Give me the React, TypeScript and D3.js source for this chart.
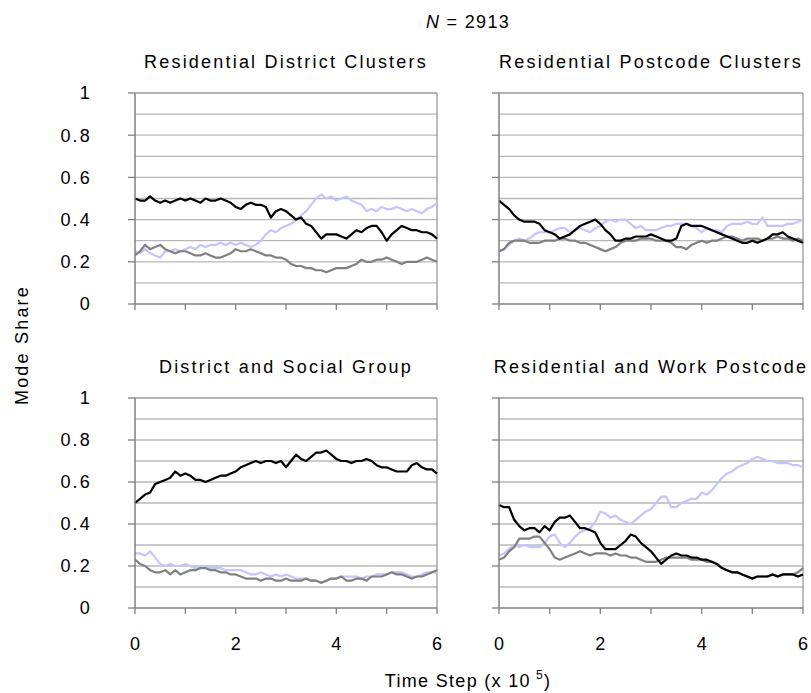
import React from "react";
import * as d3 from "d3";

// Mode share sampled every 0.1 x 10^5 time steps, t = 0 .. 6
const SAMPLE_STEP = 0.1;

const residentialDistrictBlack = [
  0.50, 0.49, 0.49, 0.51, 0.49, 0.48, 0.49, 0.48, 0.49, 0.50,
  0.49, 0.50, 0.49, 0.48, 0.50, 0.49, 0.49, 0.50, 0.49, 0.48,
  0.46, 0.45, 0.47, 0.48, 0.47, 0.47, 0.46, 0.41, 0.44, 0.45,
  0.44, 0.42, 0.40, 0.41, 0.38, 0.37, 0.34, 0.31, 0.33, 0.33,
  0.33, 0.32, 0.31, 0.33, 0.35, 0.34, 0.36, 0.37, 0.37, 0.34,
  0.30, 0.33, 0.35, 0.37, 0.36, 0.35, 0.35, 0.34, 0.34, 0.33,
  0.31,
];
const residentialDistrictBlue = [
  0.25, 0.24, 0.26, 0.24, 0.23, 0.22, 0.25, 0.25, 0.26, 0.25,
  0.26, 0.27, 0.26, 0.28, 0.27, 0.28, 0.28, 0.29, 0.28, 0.29,
  0.28, 0.29, 0.28, 0.27, 0.28, 0.30, 0.33, 0.35, 0.34, 0.36,
  0.37, 0.38, 0.40, 0.42, 0.44, 0.47, 0.50, 0.52, 0.50, 0.51,
  0.49, 0.50, 0.51, 0.49, 0.48, 0.47, 0.44, 0.45, 0.44, 0.46,
  0.45, 0.45, 0.46, 0.45, 0.44, 0.45, 0.44, 0.43, 0.45, 0.46,
  0.48,
];
const residentialDistrictGray = [
  0.23, 0.25, 0.28, 0.26, 0.27, 0.28, 0.26, 0.25, 0.24, 0.25,
  0.25, 0.24, 0.23, 0.23, 0.24, 0.23, 0.22, 0.22, 0.23, 0.24,
  0.26, 0.25, 0.25, 0.26, 0.25, 0.24, 0.23, 0.23, 0.22, 0.22,
  0.21, 0.19, 0.18, 0.18, 0.17, 0.17, 0.16, 0.16, 0.15, 0.16,
  0.17, 0.17, 0.17, 0.18, 0.19, 0.21, 0.20, 0.20, 0.21, 0.21,
  0.22, 0.21, 0.20, 0.19, 0.20, 0.20, 0.20, 0.21, 0.22, 0.21,
  0.20,
];

const residentialPostcodeBlack = [
  0.49, 0.47, 0.45, 0.42, 0.40, 0.39, 0.39, 0.39, 0.38, 0.35,
  0.34, 0.33, 0.31, 0.32, 0.33, 0.35, 0.37, 0.38, 0.39, 0.40,
  0.38, 0.35, 0.33, 0.30, 0.30, 0.31, 0.31, 0.32, 0.32, 0.32,
  0.33, 0.32, 0.31, 0.30, 0.30, 0.31, 0.37, 0.38, 0.37, 0.37,
  0.37, 0.36, 0.35, 0.34, 0.33, 0.32, 0.31, 0.30, 0.29, 0.29,
  0.30, 0.29, 0.30, 0.31, 0.33, 0.33, 0.34, 0.32, 0.31, 0.30,
  0.29,
];
const residentialPostcodeBlue = [
  0.25, 0.26, 0.28, 0.30, 0.31, 0.30, 0.31, 0.33, 0.34, 0.34,
  0.34, 0.35, 0.36, 0.36, 0.34, 0.35, 0.36, 0.35, 0.34, 0.36,
  0.37, 0.39, 0.40, 0.39, 0.40, 0.40, 0.38, 0.36, 0.37, 0.35,
  0.35, 0.35, 0.36, 0.37, 0.37, 0.38, 0.38, 0.38, 0.37, 0.36,
  0.34, 0.36, 0.35, 0.35, 0.34, 0.37, 0.38, 0.38, 0.38, 0.39,
  0.38, 0.38, 0.41, 0.37, 0.37, 0.37, 0.37, 0.38, 0.38, 0.39,
  0.40,
];
const residentialPostcodeGray = [
  0.25, 0.26, 0.29, 0.30, 0.30, 0.30, 0.29, 0.29, 0.29, 0.30,
  0.30, 0.30, 0.31, 0.31, 0.30, 0.30, 0.29, 0.29, 0.28, 0.27,
  0.26, 0.25, 0.26, 0.27, 0.29, 0.30, 0.30, 0.30, 0.31, 0.31,
  0.31, 0.30, 0.30, 0.30, 0.29, 0.27, 0.27, 0.26, 0.28, 0.29,
  0.30, 0.29, 0.30, 0.30, 0.31, 0.32, 0.32, 0.31, 0.30, 0.31,
  0.31, 0.31, 0.30, 0.31, 0.31, 0.32, 0.31, 0.31, 0.30, 0.31,
  0.30,
];

const districtSocialBlack = [
  0.50, 0.52, 0.54, 0.55, 0.59, 0.60, 0.61, 0.62, 0.65, 0.63,
  0.64, 0.63, 0.61, 0.61, 0.60, 0.61, 0.62, 0.63, 0.63, 0.64,
  0.65, 0.67, 0.68, 0.69, 0.70, 0.69, 0.70, 0.70, 0.69, 0.70,
  0.67, 0.70, 0.73, 0.71, 0.70, 0.72, 0.74, 0.74, 0.75, 0.73,
  0.71, 0.70, 0.70, 0.69, 0.70, 0.70, 0.71, 0.70, 0.68, 0.67,
  0.67, 0.66, 0.65, 0.65, 0.65, 0.68, 0.69, 0.67, 0.66, 0.66,
  0.64,
];
const districtSocialBlue = [
  0.26, 0.26, 0.25, 0.27, 0.24, 0.21, 0.20, 0.21, 0.20, 0.20,
  0.21, 0.20, 0.19, 0.20, 0.20, 0.19, 0.19, 0.19, 0.18, 0.18,
  0.18, 0.18, 0.17, 0.16, 0.16, 0.17, 0.16, 0.15, 0.16, 0.15,
  0.16, 0.15, 0.14, 0.14, 0.14, 0.13, 0.13, 0.12, 0.13, 0.14,
  0.14, 0.15, 0.15, 0.15, 0.15, 0.14, 0.15, 0.15, 0.16, 0.16,
  0.16, 0.17, 0.17, 0.17, 0.16, 0.15, 0.15, 0.16, 0.17, 0.17,
  0.17,
];
const districtSocialGray = [
  0.23, 0.21, 0.20, 0.18, 0.17, 0.17, 0.18, 0.16, 0.18, 0.16,
  0.17, 0.18, 0.18, 0.19, 0.19, 0.18, 0.18, 0.17, 0.17, 0.16,
  0.16, 0.15, 0.14, 0.14, 0.14, 0.13, 0.14, 0.14, 0.13, 0.13,
  0.14, 0.13, 0.13, 0.13, 0.14, 0.13, 0.13, 0.12, 0.13, 0.14,
  0.14, 0.15, 0.13, 0.13, 0.14, 0.14, 0.13, 0.15, 0.15, 0.15,
  0.16, 0.17, 0.16, 0.16, 0.15, 0.14, 0.15, 0.15, 0.16, 0.17,
  0.18,
];

const residentialWorkBlack = [
  0.49, 0.48, 0.48, 0.42, 0.39, 0.37, 0.38, 0.38, 0.36, 0.39,
  0.37, 0.41, 0.43, 0.43, 0.44, 0.41, 0.38, 0.38, 0.37, 0.36,
  0.31, 0.28, 0.28, 0.28, 0.30, 0.32, 0.35, 0.34, 0.31, 0.29,
  0.27, 0.24, 0.21, 0.23, 0.25, 0.26, 0.25, 0.25, 0.24, 0.24,
  0.23, 0.23, 0.22, 0.21, 0.19, 0.18, 0.17, 0.17, 0.16, 0.15,
  0.14, 0.15, 0.15, 0.15, 0.16, 0.15, 0.16, 0.16, 0.16, 0.15,
  0.16,
];
const residentialWorkBlue = [
  0.25, 0.26, 0.28, 0.30, 0.29, 0.30, 0.29, 0.29, 0.29, 0.31,
  0.34, 0.35, 0.31, 0.29, 0.31, 0.34, 0.36, 0.37, 0.38, 0.41,
  0.46, 0.45, 0.43, 0.44, 0.42, 0.41, 0.40, 0.42, 0.44, 0.46,
  0.47, 0.50, 0.53, 0.53, 0.48, 0.48, 0.50, 0.51, 0.52, 0.52,
  0.55, 0.54, 0.56, 0.59, 0.62, 0.64, 0.65, 0.67, 0.68, 0.69,
  0.71, 0.72, 0.71, 0.70, 0.70, 0.69, 0.69, 0.69, 0.68, 0.68,
  0.67,
];
const residentialWorkGray = [
  0.23, 0.24, 0.27, 0.29, 0.33, 0.33, 0.33, 0.34, 0.34, 0.31,
  0.28, 0.24, 0.23, 0.24, 0.25, 0.26, 0.27, 0.26, 0.25, 0.26,
  0.26, 0.26, 0.25, 0.26, 0.25, 0.25, 0.24, 0.24, 0.23, 0.22,
  0.22, 0.22, 0.23, 0.24, 0.24, 0.24, 0.24, 0.24, 0.23, 0.23,
  0.23, 0.22, 0.22, 0.21, 0.19, 0.18, 0.17, 0.17, 0.16, 0.15,
  0.14, 0.15, 0.15, 0.15, 0.16, 0.15, 0.16, 0.16, 0.16, 0.17,
  0.19,
];

const panelTitles = [
  "Residential District Clusters",
  "Residential Postcode Clusters",
  "District and Social Group",
  "Residential and Work Postcode",
];
const yTickValues = [0, 0.2, 0.4, 0.6, 0.8, 1];
const yTickLabels = ["0", "0.2", "0.4", "0.6", "0.8", "1"];
const xTickValues = [0, 1, 2, 3, 4, 5, 6];
const xTickLabels = ["0", "2", "4", "6"];
const gridValues = [0.1, 0.2, 0.3, 0.4, 0.5, 0.6, 0.7, 0.8, 0.9];

const COLORS = { black: "#000000", gray: "#808080", blue: "#c4c4ff" };

const panelSeries = [
  [residentialDistrictBlue, residentialDistrictGray, residentialDistrictBlack],
  [residentialPostcodeBlue, residentialPostcodeGray, residentialPostcodeBlack],
  [districtSocialBlue, districtSocialGray, districtSocialBlack],
  [residentialWorkBlue, residentialWorkGray, residentialWorkBlack],
];
const seriesColors = [COLORS.blue, COLORS.gray, COLORS.black];

const FONT = "'Liberation Sans', Arial, sans-serif";
const FONT_SIZE = 18;
const LETTER_SPACING = 2.2;

const colLeft = [135, 499];
const colRight = [437, 803];
const rowTop = [93, 398];
const rowBottom = [304, 608];

function Panel({ index }: { index: number }) {
  const col = index % 2;
  const row = Math.floor(index / 2);
  const x = d3.scaleLinear().domain([0, 6]).range([colLeft[col], colRight[col]]);
  const y = d3.scaleLinear().domain([0, 1]).range([rowBottom[row], rowTop[row]]);
  const line = d3
    .line<number>()
    .x((_, i) => x(i * SAMPLE_STEP))
    .y((d) => y(d));
  const [x0, x1] = x.range();
  const [y0, y1] = y.range();
  const showYLabels = col === 0;
  const showXLabels = row === 1;

  return (
    <g>
      <text
        x={(x0 + x1) / 2}
        y={y1 - 25}
        textAnchor="middle"
        fontFamily={FONT}
        fontSize={FONT_SIZE}
        letterSpacing={LETTER_SPACING}
        fill="#000"
      >
        {panelTitles[index]}
      </text>
      {gridValues.map((g) => (
        <line key={g} x1={x0} x2={x1} y1={y(g)} y2={y(g)} stroke="#b8b8b8" strokeWidth={1.3} />
      ))}
      <line x1={x0} x2={x1} y1={y(1)} y2={y(1)} stroke="#9a9a9a" strokeWidth={1.3} />
      <line x1={x1} x2={x1} y1={y1} y2={y0} stroke="#9a9a9a" strokeWidth={1.3} />
      {panelSeries[index].map((s, i) => (
        <path
          key={i}
          d={line(s) ?? ""}
          fill="none"
          stroke={seriesColors[i]}
          strokeWidth={2.2}
          strokeLinejoin="round"
        />
      ))}
      <line x1={x0} x2={x0} y1={y1} y2={y0} stroke="#808080" strokeWidth={1.5} />
      <line x1={x0} x2={x1} y1={y0} y2={y0} stroke="#808080" strokeWidth={1.5} />
      {yTickValues.map((v, i) => (
        <g key={v}>
          <line x1={x0 - 7} x2={x0} y1={y(v)} y2={y(v)} stroke="#808080" strokeWidth={1.3} />
          {showYLabels && (
            <text
              x={x0 - 43}
              y={y(v)}
              dy="0.36em"
              textAnchor="end"
              fontFamily={FONT}
              fontSize={FONT_SIZE}
              letterSpacing={LETTER_SPACING}
              fill="#000"
            >
              {yTickLabels[i]}
            </text>
          )}
        </g>
      ))}
      {xTickValues.map((v) => (
        <line key={v} x1={x(v)} x2={x(v)} y1={y0} y2={y0 + 6} stroke="#808080" strokeWidth={1.3} />
      ))}
      {showXLabels &&
        xTickLabels.map((lab) => (
          <text
            key={lab}
            x={x(+lab)}
            y={y0 + 42}
            textAnchor="middle"
            fontFamily={FONT}
            fontSize={FONT_SIZE}
            fill="#000"
          >
            {lab}
          </text>
        ))}
    </g>
  );
}

export default function App() {
  return (
    <svg width={811} height={693} style={{ display: "block", position: "absolute", left: 0, top: 0 }}>
      <rect width={811} height={693} fill="#ffffff" />
      <text
        x={468}
        y={28}
        textAnchor="middle"
        fontFamily={FONT}
        fontSize={FONT_SIZE}
        letterSpacing={LETTER_SPACING * 0.6}
        fill="#000"
      >
        <tspan fontStyle="italic">N</tspan>
        <tspan> = 2913</tspan>
      </text>
      {[0, 1, 2, 3].map((i) => (
        <Panel key={i} index={i} />
      ))}
      <text
        transform="translate(28,345) rotate(-90)"
        textAnchor="middle"
        fontFamily={FONT}
        fontSize={FONT_SIZE}
        letterSpacing={LETTER_SPACING}
        fill="#000"
      >
        Mode Share
      </text>
      <text
        x={468}
        y={687}
        textAnchor="middle"
        fontFamily={FONT}
        fontSize={FONT_SIZE}
        letterSpacing={LETTER_SPACING * 0.6}
        fill="#000"
      >
        Time Step (x 10
        <tspan dx={5} dy={-8} fontSize={12}>
          5
        </tspan>
        <tspan dy={8}>)</tspan>
      </text>
    </svg>
  );
}
